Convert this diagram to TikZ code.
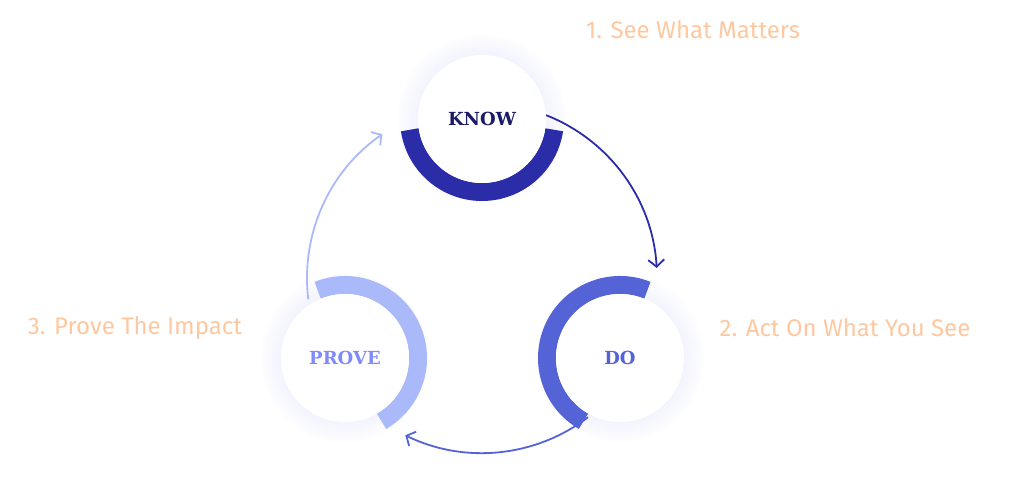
\documentclass[tikz,border=0pt]{standalone}
\usepackage{fontspec}
\setmainfont{Fira Sans}
\newfontfamily\stagefont{DejaVu Serif}
\usetikzlibrary{arrows.meta}
\definecolor{knowblue}{HTML}{2A2CA8}
\definecolor{doblue}{HTML}{5463D6}
\definecolor{proveblue}{HTML}{A9B9FA}
\definecolor{navy}{HTML}{1A1A66}
\definecolor{peach}{HTML}{FDC8A0}
\definecolor{glow}{HTML}{D8DAFA}
\tikzset{
  stage/.style={circle,fill=white,minimum size=128pt,inner sep=0pt,font=\stagefont\bfseries\fontsize{18}{22}\selectfont},
  ring/.style={line width=18pt},
  flow/.style={line width=1.8pt,-{Straight Barb[length=7pt,width=16pt,line width=1.8pt]}},
  goal/.style={text=peach,font=\fontsize{24}{28}\selectfont}
}
\begin{document}
\begin{tikzpicture}[x=1pt,y=1pt]
	\useasboundingbox (0,0) rectangle (1024,479);
	\coordinate (hub) at (482,201);
	% soft halos
	\foreach \c in {(482,360),(620,121),(345,121)}{
		\foreach \r in {66,69,...,84}
			\fill[glow,opacity=0.05] \c circle (\r);
	}
	% rings
	\draw[ring,knowblue] (482,360) ++(188.5:73) arc (188.5:351.5:73);
	\draw[ring,doblue] (620,121) ++(68:73) arc (68:240:73);
	\draw[ring,proveblue] (345,121) ++(112:73) arc (112:-60:73);
	% stages
	\node[stage,text=navy] (know) at (482,360) {KNOW};
	\node[stage,text=doblue] (do) at (620,121) {DO};
	\node[stage,text=proveblue!75!blue] (prove) at (345,121) {PROVE};
	% cycle
	\draw[flow,knowblue] (hub) ++(68.5:175) arc (68.5:3.3:175);
	\draw[flow,doblue] (hub) ++(-52.7:175) arc (-52.7:-116:175);
	\draw[flow,proveblue] (hub) ++(187:175) arc (187:124.7:175);
	% goals
	\node[goal] (see) at (693,449) {1. See What Matters};
	\node[goal] (act) at (845,151) {2. Act On What You See};
	\node[goal] (impact) at (135,151) {3. Prove The Impact};
\end{tikzpicture}
\end{document}
